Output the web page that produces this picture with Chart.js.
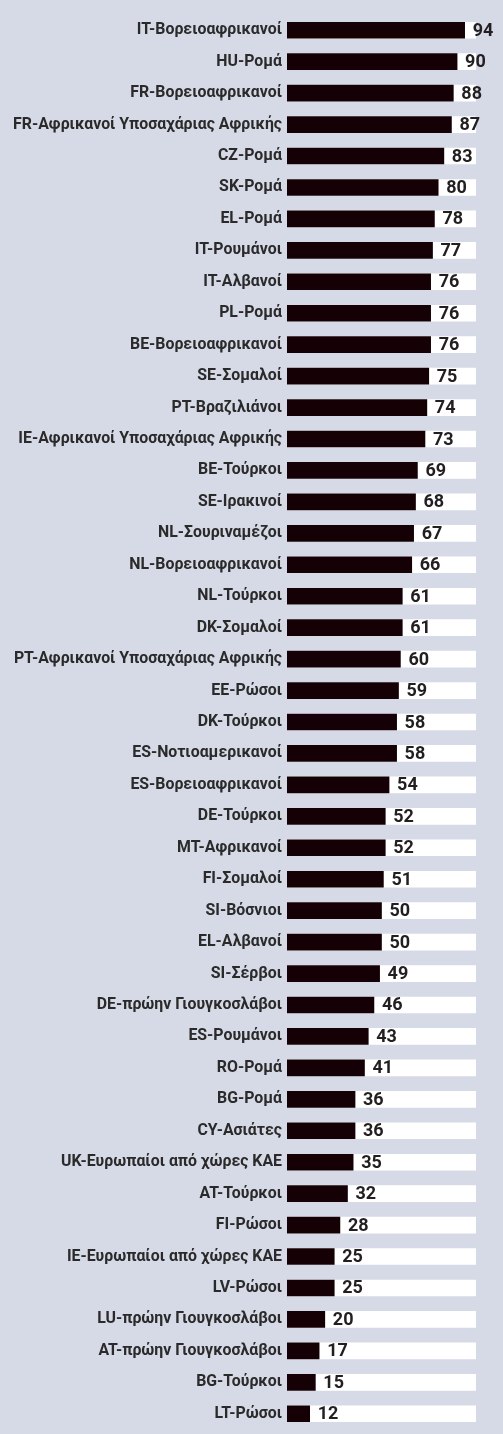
<!DOCTYPE html>
<html>
<head>
<meta charset="utf-8">
<script src="https://cdn.jsdelivr.net/npm/chart.js@4.4.1/dist/chart.umd.min.js"></script>
<style>
  html, body { margin: 0; padding: 0; background: #d6dae6; overflow: hidden; }
  #wrap { width: 503px; height: 1444px; }
</style>
</head>
<body>
<div id="wrap"><canvas id="c" width="503" height="1444"></canvas></div>
<script>
const categories = [
  "IT-Βορειοαφρικανοί",
  "HU-Ρομά",
  "FR-Βορειοαφρικανοί",
  "FR-Αφρικανοί Υποσαχάριας Αφρικής",
  "CZ-Ρομά",
  "SK-Ρομά",
  "EL-Ρομά",
  "IT-Ρουμάνοι",
  "IT-Αλβανοί",
  "PL-Ρομά",
  "BE-Βορειοαφρικανοί",
  "SE-Σομαλοί",
  "PT-Βραζιλιάνοι",
  "IE-Αφρικανοί Υποσαχάριας Αφρικής",
  "BE-Τούρκοι",
  "SE-Ιρακινοί",
  "NL-Σουριναμέζοι",
  "NL-Βορειοαφρικανοί",
  "NL-Τούρκοι",
  "DK-Σομαλοί",
  "PT-Αφρικανοί Υποσαχάριας Αφρικής",
  "EE-Ρώσοι",
  "DK-Τούρκοι",
  "ES-Νοτιοαμερικανοί",
  "ES-Βορειοαφρικανοί",
  "DE-Τούρκοι",
  "MT-Αφρικανοί",
  "FI-Σομαλοί",
  "SI-Βόσνιοι",
  "EL-Αλβανοί",
  "SI-Σέρβοι",
  "DE-πρώην Γιουγκοσλάβοι",
  "ES-Ρουμάνοι",
  "RO-Ρομά",
  "BG-Ρομά",
  "CY-Ασιάτες",
  "UK-Ευρωπαίοι από χώρες ΚΑΕ",
  "AT-Τούρκοι",
  "FI-Ρώσοι",
  "IE-Ευρωπαίοι από χώρες ΚΑΕ",
  "LV-Ρώσοι",
  "LU-πρώην Γιουγκοσλάβοι",
  "AT-πρώην Γιουγκοσλάβοι",
  "BG-Τούρκοι",
  "LT-Ρώσοι"
];
const values = [
  94, 90, 88, 87, 83, 80, 78, 77, 76, 76, 76, 75, 74, 73, 69, 68, 67, 66,
  61, 61, 60, 59, 58, 58, 54, 52, 52, 51, 50, 50, 49, 46, 43, 41, 36, 36,
  35, 32, 28, 25, 25, 20, 17, 15, 12
];
const maxValue = 100;
const track = categories.map(() => maxValue);

const labelFamily = '"Liberation Sans Narrow", "Roboto", sans-serif';
// fit label font so the longest label spans like the reference
const mctx = document.createElement('canvas').getContext('2d');
mctx.font = 'bold 100px ' + labelFamily;
const longest = "FR-Αφρικανοί Υποσαχάριας Αφρικής";
let labelSize = 100 * 269 / mctx.measureText(longest).width;
labelSize = Math.max(12, Math.min(17.5, labelSize));

const valueLabels = {
  id: 'valueLabels',
  afterDatasetsDraw(chart) {
    const ctx = chart.ctx;
    const meta = chart.getDatasetMeta(1);
    ctx.save();
    ctx.font = 'bold 18px Roboto';
    ctx.fillStyle = '#231f20';
    ctx.textAlign = 'left';
    ctx.textBaseline = 'middle';
    meta.data.forEach((el, i) => {
      ctx.fillText(String(values[i]), el.x + 8, el.y + 1);
    });
    ctx.restore();
  }
};

new Chart(document.getElementById('c'), {
  type: 'bar',
  data: {
    labels: categories,
    datasets: [
      {
        data: track,
        backgroundColor: '#ffffff',
        barThickness: 16,
        grouped: false,
        order: 2
      },
      {
        data: values,
        backgroundColor: '#150005',
        barThickness: 16,
        grouped: false,
        order: 1
      }
    ]
  },
  options: {
    indexAxis: 'y',
    responsive: false,
    animation: false,
    devicePixelRatio: 1,
    layout: { padding: { left: 0, right: 27, top: 2, bottom: 2 } },
    plugins: { legend: { display: false }, tooltip: { enabled: false } },
    scales: {
      x: { min: 0, max: maxValue, display: false },
      y: {
        grid: { display: false, drawTicks: false },
        border: { display: false },
        ticks: {
          padding: 5,
          color: '#2a2a2a',
          font: { family: labelFamily, weight: 'bold', size: labelSize },
          autoSkip: false
        },
        afterFit(scale) { scale.width = 287; }
      }
    }
  },
  plugins: [valueLabels]
});
</script>
</body>
</html>
